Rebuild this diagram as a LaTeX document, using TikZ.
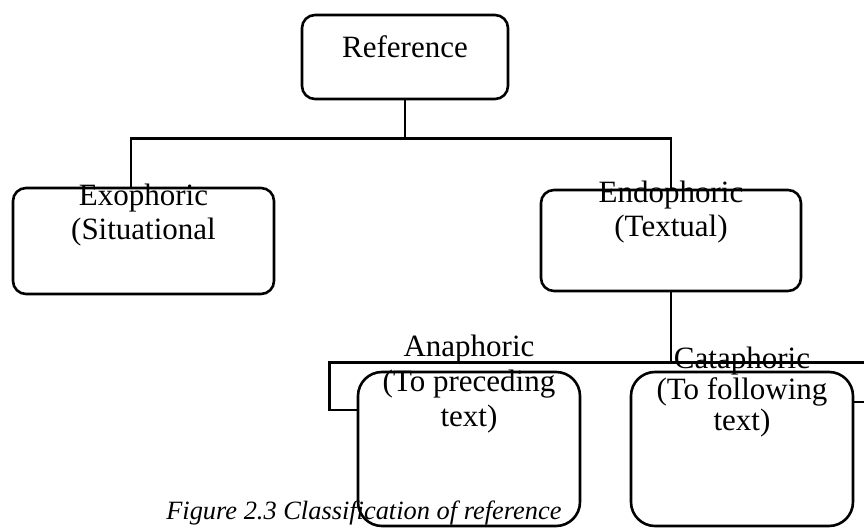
\documentclass[tikz,border=0pt]{standalone}
\usepackage{fontspec}
\setmainfont{Liberation Serif}
\usetikzlibrary{calc}
\begin{document}
\begin{tikzpicture}[x=0.5pt,y=-0.5pt,line width=1.3pt,
  refbox/.style={draw,rounded corners=6.5pt,inner sep=0pt},
  subbox/.style={refbox,rounded corners=12pt,minimum width=111pt,minimum height=77pt},
  reftext/.style={font=\fontsize{15.5}{17}\selectfont,align=center,anchor=base,inner sep=0pt}]
\useasboundingbox (0,0) rectangle (864,529);
\clip (0,0) rectangle (864,529);
% Reference
\node[refbox,minimum width=103pt,minimum height=42pt] (ref) at (405,57) {};
\node[reftext] (reft) at (405,58) {Reference};
% Exophoric / Endophoric
\node[refbox,minimum width=130.5pt,minimum height=53pt] (exo) at (143.5,241) {};
\node[reftext] (exot) at (143.5,240) {Exophoric\\(Situational};
\node[refbox,minimum width=130pt,minimum height=50.5pt] (endo) at (671,240.5) {};
\node[reftext] (endot) at (671,237) {Endophoric\\(Textual)};
% Anaphoric / Cataphoric
\node[subbox] (ana) at (469,449) {};
\node[reftext,font=\fontsize{15.5}{17.5}\selectfont] (anat) at (469,427) {Anaphoric\\(To preceding\\text)};
\node[subbox] (cata) at (742,449) {};
\node[reftext,font=\fontsize{15.5}{15.5}\selectfont] (catat) at (742,431) {Cataphoric\\(To following\\text)};
% connectors
\draw (ref.south) -- ++(0,38) coordinate (j1);
\draw ($(exo.north)+(-12.5,0)$) |- (j1) -| (endo.north);
\draw (endo.south) -- ++(0,70) coordinate (j2);
\draw ($(ana.west)+(0,-39)$) -- ++(-27,0) |- (j2);
\draw ($(cata.east)+(0,-47)$) -- ++(30,0) |- (j2);
% caption
\node[font=\fontsize{13.2}{15}\selectfont\itshape,anchor=base west,inner sep=0pt] (cap) at (165,520) {Figure 2.3 Classification of reference};
\end{tikzpicture}
\end{document}
